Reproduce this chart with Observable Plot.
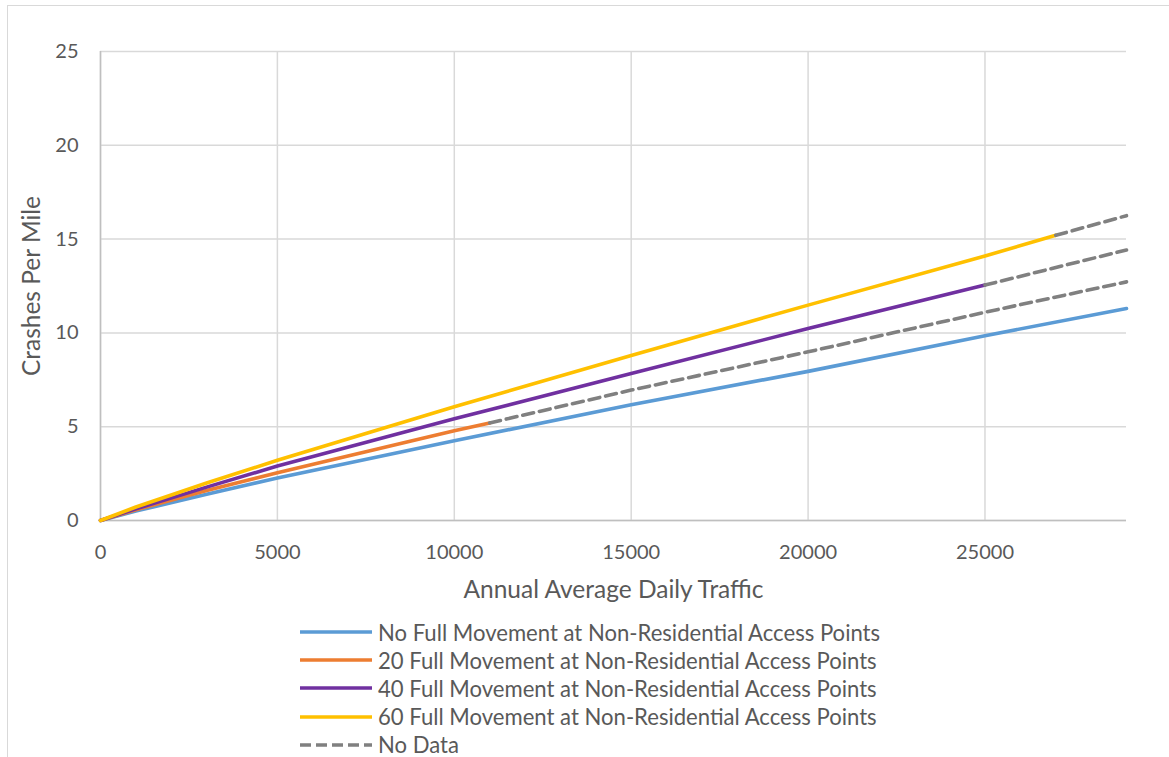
<!DOCTYPE html>
<html>
<head>
<meta charset="utf-8">
<script src="https://cdn.jsdelivr.net/npm/d3@7"></script>
<script src="https://cdn.jsdelivr.net/npm/@observablehq/plot@0.6"></script>
<style>
  html, body { margin: 0; padding: 0; background: #fff; }
  body { width: 1169px; height: 757px; position: relative; overflow: hidden; font-family: Lato, "Open Sans", sans-serif; }
  #frame { position: absolute; left: 7px; top: 5px; width: 1170px; height: 760px; border-top: 1.5px solid #d9d9d9; border-left: 1.5px solid #d9d9d9; }
  #chart { position: absolute; left: 0; top: 0; }
  #legend { position: absolute; left: 300px; top: 618px; color: #595959; font-size: 22.1px; }
  .row { height: 28.2px; display: flex; align-items: center; white-space: nowrap; }
  .row svg { margin-right: 6px; }
</style>
</head>
<body>
<div id="frame"></div>
<div id="chart"></div>
<div id="legend"></div>
<script>
// ---- data ----
const xTicks = [0, 5000, 10000, 15000, 20000, 25000];
const yTicks = [0, 5, 10, 15, 20, 25];

const seriesNames = [
  "No Full Movement at Non-Residential Access Points",
  "20 Full Movement at Non-Residential Access Points",
  "40 Full Movement at Non-Residential Access Points",
  "60 Full Movement at Non-Residential Access Points",
  "No Data"
];
const seriesColors = ["#5B9BD5", "#ED7D31", "#7030A0", "#FFC000", "#808080"];

const noFullX = [0, 1000, 3000, 5000, 10000, 15000, 20000, 25000, 29000];
const noFullY = [0, 0.5, 1.4, 2.27, 4.25, 6.17, 7.95, 9.85, 11.3];

const full20X = [0, 1000, 3000, 5000, 10000, 11000];
const full20Y = [0, 0.57, 1.6, 2.54, 4.78, 5.2];
const full20NoDataX = [11000, 15000, 20000, 25000, 29000];
const full20NoDataY = [5.2, 6.95, 8.99, 11.1, 12.72];

const full40X = [0, 1000, 3000, 5000, 10000, 15000, 20000, 25000];
const full40Y = [0, 0.62, 1.78, 2.9, 5.42, 7.84, 10.23, 12.55];
const full40NoDataX = [25000, 29000];
const full40NoDataY = [12.55, 14.42];

const full60X = [0, 1000, 3000, 5000, 10000, 15000, 20000, 25000, 27000];
const full60Y = [0, 0.72, 2.0, 3.21, 6.06, 8.8, 11.48, 14.1, 15.2];
const full60NoDataX = [27000, 29000];
const full60NoDataY = [15.2, 16.25];

// ---- build ----
const pts = (xs, ys) => xs.map((x, i) => ({x, y: ys[i]}));
const solid = [
  [pts(noFullX, noFullY), seriesColors[0]],
  [pts(full20X, full20Y), seriesColors[1]],
  [pts(full40X, full40Y), seriesColors[2]],
  [pts(full60X, full60Y), seriesColors[3]]
];
const dashed = [
  pts(full20NoDataX, full20NoDataY),
  pts(full40NoDataX, full40NoDataY),
  pts(full60NoDataX, full60NoDataY)
];

const chart = Plot.plot({
  width: 1169,
  height: 610,
  marginLeft: 100,
  marginRight: 43,
  marginTop: 51,
  marginBottom: 90,
  style: {fontFamily: "Lato, 'Open Sans', sans-serif", fontSize: "20px", color: "#595959", background: "transparent"},
  x: {domain: [0, 29000], ticks: xTicks, label: null},
  y: {domain: [0, 25], ticks: yTicks, label: null},
  marks: [
    Plot.gridX(xTicks, {stroke: "#d9d9d9", strokeOpacity: 1, strokeWidth: 1.5}),
    Plot.gridY(yTicks, {stroke: "#d9d9d9", strokeOpacity: 1, strokeWidth: 1.5}),
    Plot.ruleY([0], {stroke: "#bfbfbf", strokeWidth: 1.5}),
    Plot.ruleX([0], {stroke: "#bfbfbf", strokeWidth: 1.5}),
    Plot.axisX(xTicks, {tickSize: 0, tickPadding: 24, tickFormat: d => String(d), label: null, fontSize: 20, fill: "#595959"}),
    Plot.axisY(yTicks, {tickSize: 0, tickPadding: 22, label: null, fontSize: 20, fill: "#595959"}),
    ...solid.map(([d, c]) => Plot.line(d, {x: "x", y: "y", stroke: c, strokeWidth: 3.6, strokeLinejoin: "round"})),
    ...dashed.map(d => Plot.line(d, {x: "x", y: "y", stroke: seriesColors[4], strokeWidth: 3.6, strokeDasharray: "11,6"})),
    Plot.text(["Annual Average Daily Traffic"], {frameAnchor: "bottom", dy: 77, fontSize: 24.5, fill: "#595959"}),
    Plot.text(["Crashes Per Mile"], {frameAnchor: "left", dx: -68, rotate: -90, textAnchor: "middle", fontSize: 24.5, fill: "#595959"})
  ]
});
document.getElementById("chart").appendChild(chart);

// ---- legend ----
const legend = document.getElementById("legend");
seriesNames.forEach((name, i) => {
  const row = document.createElement("div");
  row.className = "row";
  const dash = i === 4 ? ' stroke-dasharray="11,5"' : '';
  row.innerHTML = `<svg width="72" height="6"><line x1="0" y1="3" x2="72" y2="3" stroke="${seriesColors[i]}" stroke-width="3.6"${dash}/></svg><span>${name}</span>`;
  legend.appendChild(row);
});
</script>
</body>
</html>
